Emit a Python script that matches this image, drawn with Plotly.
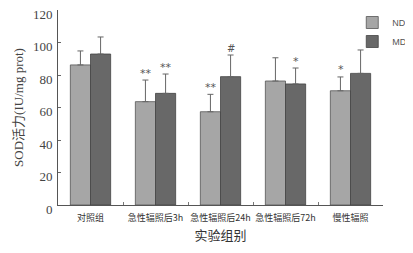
import plotly.graph_objects as go

categories = ["对照组", "急性辐照后3h", "急性辐照后24h", "急性辐照后72h", "慢性辐照"]
nd_values = [86.2, 63.6, 57.4, 76.3, 70.3]
nd_err = [8.6, 13.3, 10.7, 14.3, 8.5]
md_values = [92.9, 68.7, 79.0, 74.5, 81.0]
md_err = [10.5, 11.9, 13.3, 9.8, 14.4]
nd_marks = ["", "**", "**", "", "*"]
md_marks = ["", "**", "#", "*", ""]
y_ticks = [0, 20, 40, 60, 80, 100, 120]

fig = go.Figure()
fig.add_trace(go.Bar(
    name="ND", x=categories, y=nd_values,
    marker=dict(color="#a6a6a6", line=dict(color="#555", width=0.8)),
    error_y=dict(type="data", array=nd_err, arrayminus=[0]*5, color="#666", thickness=1, width=3),
))
fig.add_trace(go.Bar(
    name="MD", x=categories, y=md_values,
    marker=dict(color="#686868", line=dict(color="#444", width=0.8)),
    error_y=dict(type="data", array=md_err, arrayminus=[0]*5, color="#666", thickness=1, width=3),
))

for i, c in enumerate(categories):
    if nd_marks[i]:
        fig.add_annotation(x=c, y=nd_values[i] + nd_err[i], text=nd_marks[i], showarrow=False,
                           xshift=-10, yshift=7, font=dict(size=11, color="#555", family="DejaVu Sans"))
    if md_marks[i]:
        fig.add_annotation(x=c, y=md_values[i] + md_err[i], text=md_marks[i], showarrow=False,
                           xshift=10, yshift=7, font=dict(size=11 if md_marks[i] != "#" else 10, color="#555", family="DejaVu Sans"))

fig.update_layout(
    width=405, height=245,
    margin=dict(l=50, r=30, t=2, b=48, autoexpand=False),
    paper_bgcolor="white", plot_bgcolor="white",
    barmode="group", bargap=0.38, bargroupgap=0,
    showlegend=True,
    legend=dict(xref="container", yref="container", x=0.85, y=1.012, xanchor="left", yanchor="top",
                bgcolor="rgba(0,0,0,0)",
                font=dict(size=9, family="Liberation Sans Narrow, Liberation Sans", color="#555"),
                itemwidth=30, tracegroupgap=0),
    xaxis=dict(showline=True, linecolor="#555", linewidth=1, ticks="inside", tickson="boundaries",
               ticklen=3, tickcolor="#777", tickangle=0, ticklabelstandoff=4,
               tickfont=dict(size=9, family="Noto Sans CJK SC", color="#333"),
               title=dict(text="实验组别", font=dict(size=13, family="Noto Sans CJK SC", color="#333"), standoff=8)),
    yaxis=dict(range=[0, 120], tickvals=y_ticks, showline=True, linecolor="#555", linewidth=1,
               ticks="inside", ticklen=3, tickcolor="#666", showgrid=False, zeroline=False,
               ticklabelshift=4, ticklabelstandoff=2, ticklabeloverflow="allow",
               tickfont=dict(size=13, family="Liberation Serif", color="#444"),
               title=dict(text="SOD活力(IU/mg prot)", font=dict(size=13, family="Liberation Serif, Noto Sans CJK SC", color="#444"), standoff=6)),
)
fig.write_html("out.html")
